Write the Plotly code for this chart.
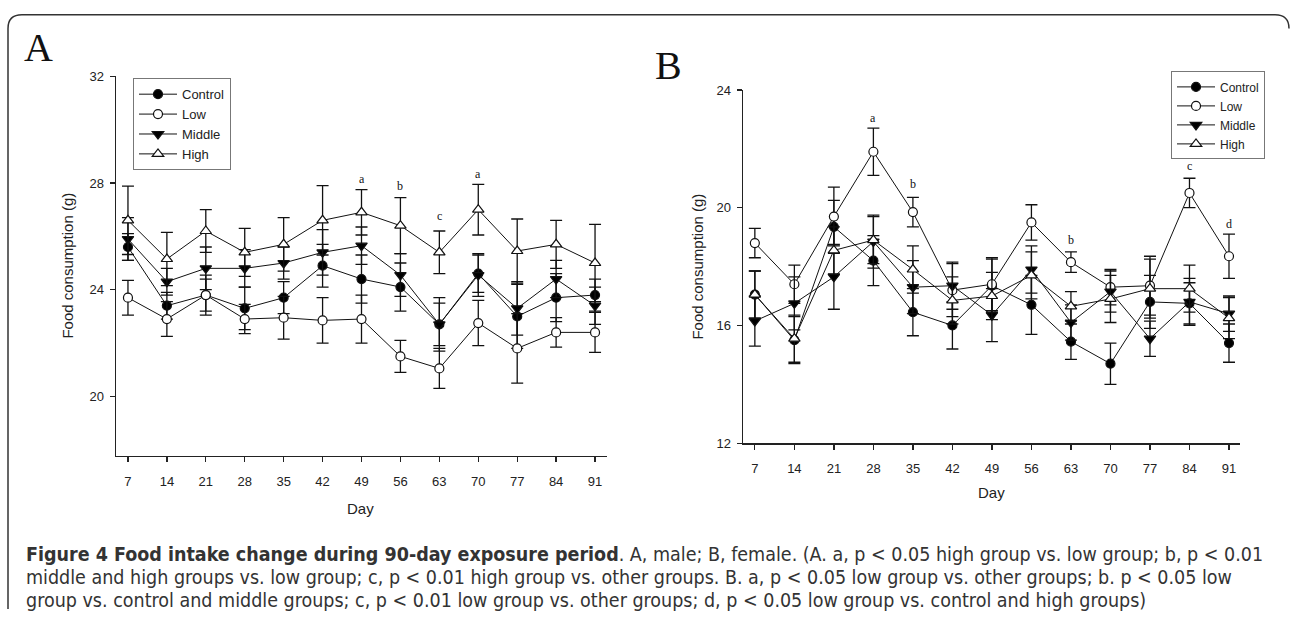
import plotly.graph_objects as go

W, H = 1290, 621

days = [7, 14, 21, 28, 35, 42, 49, 56, 63, 70, 77, 84, 91]
day_labels = [str(d) for d in days]
groups = ["Control", "Low", "Middle", "High"]

# Panel A (male)
a_control = [25.6, 23.4, 23.8, 23.3, 23.7, 24.9, 24.4, 24.1, 22.7, 24.6, 23.0, 23.7, 23.8]
a_control_err = [0.5, 0.5, 0.6, 0.8, 0.6, 0.8, 0.9, 0.9, 0.8, 0.7, 1.2, 0.9, 0.6]
a_low = [23.7, 22.9, 23.8, 22.9, 22.95, 22.85, 22.9, 21.5, 21.05, 22.75, 21.8, 22.4, 22.4]
a_low_err = [0.65, 0.65, 0.75, 0.55, 0.8, 0.85, 0.9, 0.6, 0.75, 0.85, 1.3, 0.55, 0.75]
a_middle = [25.9, 24.3, 24.8, 24.8, 25.0, 25.4, 25.65, 24.55, 22.7, 24.55, 23.3, 24.4, 23.4]
a_middle_err = [0.8, 0.5, 0.8, 0.7, 0.6, 0.85, 0.7, 0.8, 1.0, 0.8, 1.0, 0.7, 0.7]
a_high = [26.6, 25.15, 26.2, 25.4, 25.7, 26.6, 26.9, 26.4, 25.4, 27.0, 25.45, 25.7, 25.0]
a_high_err = [1.28, 1.0, 0.8, 0.9, 1.0, 1.3, 0.85, 1.05, 0.8, 0.95, 1.2, 0.9, 1.45]
a_sig_days = [49, 56, 63, 70]
a_sig_text = ["a", "b", "c", "a"]
a_sig_y = [28.15, 27.9, 26.75, 28.35]

# Panel B (female)
b_control = [17.05, 15.5, 19.35, 18.2, 16.45, 16.0, 17.35, 16.7, 15.45, 14.7, 16.8, 16.75, 15.4]
b_control_err = [0.8, 0.8, 0.9, 0.85, 0.8, 0.8, 0.9, 1.0, 0.6, 0.7, 0.9, 0.7, 0.65]
b_low = [18.8, 17.4, 19.7, 21.9, 19.85, 17.2, 17.4, 19.5, 18.15, 17.3, 17.35, 20.5, 18.35]
b_low_err = [0.5, 0.65, 1.0, 0.8, 0.5, 0.9, 0.9, 0.6, 0.35, 0.6, 1.0, 0.5, 0.75]
b_middle = [16.15, 16.75, 17.65, 18.85, 17.3, 17.35, 16.35, 17.9, 16.1, 17.15, 15.55, 16.8, 16.4]
b_middle_err = [0.85, 0.9, 1.1, 0.9, 0.9, 0.8, 0.9, 0.8, 0.6, 0.7, 0.6, 0.8, 0.6]
b_high = [17.05, 15.55, 18.55, 18.9, 17.9, 16.85, 17.0, 17.7, 16.65, 16.9, 17.25, 17.25, 16.25]
b_high_err = [0.8, 0.8, 0.8, 0.8, 0.8, 0.8, 0.8, 0.8, 0.5, 0.8, 1.0, 0.8, 0.7]
b_sig_days = [28, 35, 63, 84, 91]
b_sig_text = ["a", "b", "b", "c", "d"]
b_sig_y = [23.05, 20.8, 18.9, 21.4, 19.45]

a_ticks = [20, 24, 28, 32]
b_ticks = [12, 16, 20, 24]

caption_lines = [
    "<b>Figure 4 Food intake change during 90-day exposure period</b>. A, male; B, female. (A. a, p &lt; 0.05 high group vs. low group; b, p &lt; 0.01",
    "middle and high groups vs. low group; c, p &lt; 0.01 high group vs. other groups. B. a, p &lt; 0.05 low group vs. other groups; b. p &lt; 0.05 low",
    "group vs. control and middle groups; c, p &lt; 0.01 low group vs. other groups; d, p &lt; 0.05 low group vs. control and high groups)",
]

SANS = "Liberation Sans, Arial, sans-serif"
SERIF = "Liberation Serif, Times New Roman, serif"
CAP = "DejaVu Sans Condensed, Liberation Sans Narrow, Liberation Sans"

styles = {
    "Control": dict(symbol="circle", fill="black"),
    "Low": dict(symbol="circle", fill="white"),
    "Middle": dict(symbol="triangle-down", fill="black"),
    "High": dict(symbol="triangle-up", fill="white"),
}


def px_x(x):
    return x / W


def px_y(y):
    return 1 - y / H


fig = go.Figure()

panelA = {"Control": (a_control, a_control_err), "Low": (a_low, a_low_err),
          "Middle": (a_middle, a_middle_err), "High": (a_high, a_high_err)}
panelB = {"Control": (b_control, b_control_err), "Low": (b_low, b_low_err),
          "Middle": (b_middle, b_middle_err), "High": (b_high, b_high_err)}

for panel, xa, ya, leg in [(panelA, "x", "y", "legend"), (panelB, "x2", "y2", "legend2")]:
    for g in groups:
        vals, errs = panel[g]
        st = styles[g]
        fig.add_trace(go.Scatter(
            x=days, y=vals, name=g, mode="lines+markers",
            xaxis=xa, yaxis=ya, legend=leg,
            line=dict(color="#111", width=1),
            marker=dict(symbol=st["symbol"], size=9 if "circle" in st["symbol"] else 10,
                        color=st["fill"], line=dict(color="#111", width=1.2)),
            error_y=dict(type="data", array=errs, visible=True, color="#111",
                         thickness=1.3, width=6),
        ))

axis_common = dict(showline=True, linecolor="#222", linewidth=1.4, ticks="outside",
                   ticklen=5, tickwidth=1.3, tickcolor="#222", showgrid=False,
                   zeroline=False, mirror=False,
                   tickfont=dict(family=SANS, size=13, color="#222"))

fig.update_layout(
    width=W, height=H, autosize=False,
    margin=dict(l=0, r=0, t=0, b=0),
    paper_bgcolor="white", plot_bgcolor="white",
    xaxis=dict(domain=[px_x(116), px_x(607)], range=[4.85, 93.15], anchor="y",
               tickvals=days, ticktext=day_labels, ticklabelstandoff=8, **axis_common),
    yaxis=dict(domain=[px_y(460), px_y(71)], range=[17.77, 32], anchor="x",
               tickvals=a_ticks, ticklabelstandoff=3, **axis_common),
    xaxis2=dict(domain=[px_x(743), px_x(1240)], range=[4.9, 92.95], anchor="y2",
                tickvals=days, ticktext=day_labels, ticklabelstandoff=8, **axis_common),
    yaxis2=dict(domain=[px_y(447), px_y(85)], range=[12, 24], anchor="x2",
                tickvals=b_ticks, ticklabelstandoff=3, **axis_common),
    legend=dict(x=px_x(133), y=px_y(73), xanchor="left", yanchor="top",
                bgcolor="white", bordercolor="#777", borderwidth=1,
                font=dict(family=SANS, size=13, color="#222"),
                itemwidth=38, tracegroupgap=0),
    legend2=dict(x=px_x(1171), y=px_y(66), xanchor="left", yanchor="top",
                 bgcolor="white", bordercolor="#777", borderwidth=1,
                 font=dict(family=SANS, size=12, color="#222"),
                 itemwidth=38, tracegroupgap=0),
    showlegend=True,
)

ann = []


def label(text, x, y, size, family=SANS, angle=0, color="#222"):
    ann.append(dict(text=text, x=px_x(x), y=px_y(y), xref="paper", yref="paper",
                    xanchor="center", yanchor="middle", showarrow=False, textangle=angle,
                    font=dict(family=family, size=size, color=color)))


# Panel letters
label("A", 38, 42, 40, SERIF, color="#111")
label("B", 668, 60, 40, SERIF, color="#111")
# Axis titles
label("Food consumption (g)", 68, 265, 15, angle=-90)
label("Food consumption (g)", 698, 266, 15, angle=-90)
label("Day", 361, 514, 15)
label("Day", 991, 498, 15)
# Significance letters
for d, t, yv in zip(a_sig_days, a_sig_text, a_sig_y):
    ann.append(dict(text=t, x=d, y=yv, xref="x", yref="y", showarrow=False,
                    xanchor="center", yanchor="middle",
                    font=dict(family=SERIF, size=12, color="#111")))
for d, t, yv in zip(b_sig_days, b_sig_text, b_sig_y):
    ann.append(dict(text=t, x=d, y=yv, xref="x2", yref="y2", showarrow=False,
                    xanchor="center", yanchor="middle",
                    font=dict(family=SERIF, size=12, color="#111")))
# Caption
for i, line in enumerate(caption_lines):
    ann.append(dict(text=line, x=px_x(24), y=px_y(561 + 23.5 * i), xref="paper",
                    yref="paper", xanchor="left", yanchor="middle", showarrow=False,
                    align="left", font=dict(family=CAP, size=19.5, color="#333")))
fig.update_layout(annotations=ann)

# Rounded frame (top and left edges)
path = (f"M {px_x(1289)} {px_y(22)} Q {px_x(1289)} {px_y(8)} {px_x(1275)} {px_y(8)} "
        f"L {px_x(22)} {px_y(8)} Q {px_x(8)} {px_y(8)} {px_x(8)} {px_y(22)} "
        f"L {px_x(8)} {px_y(617)}")
fig.add_shape(type="path", path=path, xref="paper", yref="paper",
              line=dict(color="#333", width=1.5))

fig.write_html("out.html", config={"displayModeBar": False, "staticPlot": True},
               post_script="document.body.style.margin='0';document.body.style.overflow='hidden';")
